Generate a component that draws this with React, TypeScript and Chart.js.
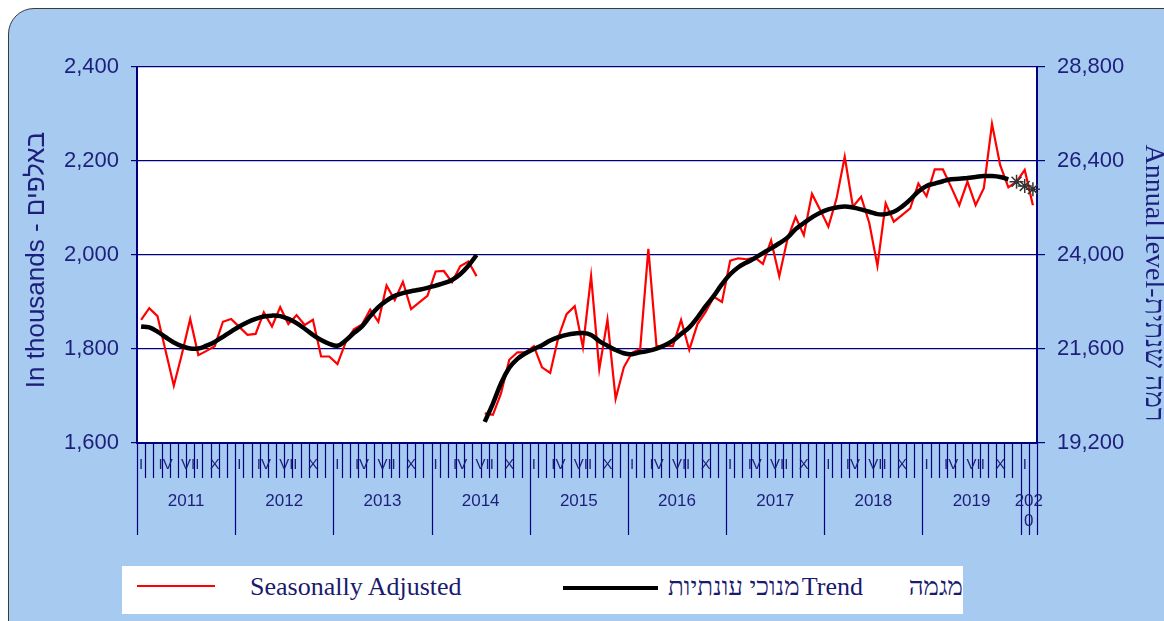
import React, { useEffect, useRef } from 'react';
import { Chart, registerables } from 'chart.js';

Chart.register(...registerables);

// ---------- data ----------
const years = [2011, 2012, 2013, 2014, 2015, 2016, 2017, 2018, 2019, 2020];
const romanMonths = ['I', '', '', 'IV', '', '', 'VII', '', '', 'X', '', ''];
const lastYearMonths = 2; // data runs through February 2020

// Seasonally adjusted, old series (Jan 2011 - Jun 2014), thousands
const seasonallyAdjustedOld = [
  1862, 1887, 1870, 1796, 1722, 1790, 1864, 1787, 1796, 1806, 1858, 1864,
  1847, 1830, 1832, 1878, 1848, 1889, 1853, 1872, 1851, 1862, 1784, 1784,
  1768, 1814, 1842, 1852, 1884, 1858, 1935, 1904, 1943, 1885, 1899, 1913,
  1965, 1966, 1942, 1976, 1986, 1955,
];
// Seasonally adjusted, new series (Jul 2014 - Feb 2020)
const seasonallyAdjustedNew = [
  1663, 1660, 1706, 1777, 1793, 1793,
  1806, 1761, 1749, 1825, 1874, 1891, 1804, 1955, 1757, 1862, 1694, 1761,
  1792, 1800, 2013, 1805, 1807, 1806, 1862, 1798, 1853, 1879, 1911, 1900,
  1988, 1993, 1991, 1995, 1981, 2031, 1955, 2034, 2081, 2042, 2130, 2096,
  2060, 2120, 2209, 2103, 2124, 2068, 1977, 2110, 2071, 2085, 2099, 2152,
  2125, 2182, 2182, 2145, 2106, 2156, 2106, 2142, 2279, 2191, 2144, 2156,
  2181, 2106,
];
// Trend, old series (Jan 2011 - Jun 2014)
const trendOld = [
  1848, 1846, 1837, 1825, 1814, 1806, 1801, 1801, 1807, 1815, 1826, 1837,
  1848, 1857, 1864, 1869, 1871, 1870, 1864, 1855, 1843, 1830, 1819, 1811,
  1807, 1818, 1834, 1848, 1870, 1889, 1903, 1913, 1919, 1923, 1926, 1930,
  1935, 1940, 1947, 1959, 1977, 2000,
];
// Trend, new series (Jul 2014 - Nov 2019)
const trendNew = [
  1645, 1684, 1727, 1760, 1779, 1791,
  1800, 1808, 1818, 1825, 1830, 1833, 1834, 1830, 1817, 1807, 1798, 1791,
  1789, 1793, 1796, 1801, 1808, 1818, 1832, 1846, 1867, 1891, 1913, 1938,
  1959, 1974, 1984, 1993, 2004, 2014, 2025, 2037, 2055, 2068, 2080, 2090,
  2097, 2101, 2103, 2101, 2097, 2092, 2087, 2087, 2092, 2103, 2118, 2135,
  2147, 2152, 2157, 2161, 2162, 2164, 2166, 2168, 2168, 2166, 2161,
];
// Trend, provisional (Dec 2019 - Feb 2020)
const trendProvisional = [2156, 2147, 2140];

const leftTicks = [1600, 1800, 2000, 2200, 2400];
const rightTicks = [19200, 21600, 24000, 26400, 28800];

// ---------- derived ----------
const monthLabels: string[] = [];
years.forEach((y, k) => {
  const n = k === years.length - 1 ? lastYearMonths : 12;
  for (let m = 1; m <= n; m++) monthLabels.push(`${y}-${m}`);
});
const N = monthLabels.length;
const pad = (arr: number[], before: number) => {
  const out: (number | null)[] = new Array(N).fill(null);
  arr.forEach((v, i) => (out[before + i] = v));
  return out;
};

const NAVY = '#000080';
const TEXT = '#1e1e7c';

if (typeof document !== 'undefined') {
  document.body.style.margin = '0';
  document.body.style.overflow = 'hidden';
}

const decorPlugin = {
  id: 'decor',
  beforeDraw(chart: any) {
    const { ctx, chartArea } = chart;
    ctx.save();
    ctx.fillStyle = '#ffffff';
    ctx.fillRect(chartArea.left, chartArea.top, chartArea.right - chartArea.left, chartArea.bottom - chartArea.top);
    ctx.restore();
  },
  afterDraw(chart: any) {
    const { ctx, chartArea } = chart;
    const x = chart.scales.x;
    const bottom = chartArea.bottom;
    const half = (x.getPixelForValue(1) - x.getPixelForValue(0)) / 2;
    ctx.save();
    ctx.strokeStyle = NAVY;
    ctx.lineWidth = 1.2;
    for (let i = 0; i <= N; i++) {
      const px = i < N ? x.getPixelForValue(i) - half : x.getPixelForValue(N - 1) + half;
      const isLong = i % 12 === 0 || i >= 108;
      ctx.beginPath();
      ctx.moveTo(Math.round(px) + 0.5, bottom);
      ctx.lineTo(Math.round(px) + 0.5, bottom + (isLong ? 92 : 35));
      ctx.stroke();
    }
    ctx.fillStyle = TEXT;
    ctx.textAlign = 'center';
    ctx.textBaseline = 'middle';
    ctx.font = '15px "Liberation Sans", Arial, sans-serif';
    for (let i = 0; i < N; i++) {
      const lab = romanMonths[i % 12];
      if (lab) ctx.fillText(lab, x.getPixelForValue(i), bottom + 22);
    }
    ctx.font = '17px "Liberation Sans", Arial, sans-serif';
    years.forEach((y, k) => {
      const s = k * 12;
      const e = Math.min(s + 11, N - 1);
      const cx = (x.getPixelForValue(s) + x.getPixelForValue(e)) / 2;
      if (e - s < 11) {
        const str = String(y);
        ctx.fillText(str.slice(0, 3), cx, bottom + 58);
        ctx.fillText(str.slice(3), cx, bottom + 78);
      } else {
        ctx.fillText(String(y), cx, bottom + 58);
      }
    });
    // axis titles
    ctx.font = '26px "Liberation Sans", Arial, sans-serif';
    ctx.save();
    ctx.translate(37, 260);
    ctx.rotate(-Math.PI / 2);
    ctx.fillText('In thousands - באלפים', 0, 0);
    ctx.restore();
    ctx.font = '28px "Liberation Serif", "Times New Roman", serif';
    ctx.save();
    ctx.translate(1153, 283);
    ctx.rotate(Math.PI / 2);
    ctx.fillText('Annual level-רמה שנתית', 0, 0);
    ctx.restore();
    ctx.restore();
  },
};

export default function App() {
  const ref = useRef<HTMLCanvasElement>(null);
  useEffect(() => {
    if (!ref.current) return;
    const chart = new Chart(ref.current, {
      type: 'line',
      data: {
        labels: monthLabels,
        datasets: [
          {
            label: 'Trend',
            data: pad(trendOld, 0),
            borderColor: '#000000',
            borderWidth: 4.5,
            pointRadius: 0,
            tension: 0.4,
            order: 0,
            yAxisID: 'y',
          },
          {
            label: 'Trend new',
            data: pad(trendNew, trendOld.length),
            borderColor: '#000000',
            borderWidth: 4.5,
            pointRadius: 0,
            tension: 0.4,
            order: 0,
            yAxisID: 'y',
          },
          {
            label: 'Trend provisional',
            data: pad(trendProvisional, trendOld.length + trendNew.length),
            borderColor: '#333333',
            borderWidth: 1.5,
            pointStyle: 'star',
            pointRadius: 7,
            pointBorderColor: '#333333',
            pointBorderWidth: 1.5,
            showLine: false,
            order: 0,
            yAxisID: 'y',
          },
          {
            label: 'Seasonally Adjusted',
            data: pad(seasonallyAdjustedOld, 0),
            borderColor: '#ff0000',
            borderWidth: 2.2,
            pointRadius: 0,
            tension: 0,
            order: 1,
            yAxisID: 'y',
          },
          {
            label: 'Seasonally Adjusted new',
            data: pad(seasonallyAdjustedNew, seasonallyAdjustedOld.length),
            borderColor: '#ff0000',
            borderWidth: 2.2,
            pointRadius: 0,
            tension: 0,
            order: 1,
            yAxisID: 'y',
          },
        ],
      },
      options: {
        animation: false,
        responsive: false,
        maintainAspectRatio: false,
        layout: { padding: { top: 67, left: 0, right: 0, bottom: 0 } },
        plugins: { legend: { display: false }, tooltip: { enabled: false } },
        scales: {
          x: {
            type: 'category',
            offset: true,
            ticks: { display: false },
            grid: { display: false },
            border: { display: true, color: NAVY, width: 2 },
            afterFit: (s: any) => { s.height = 178; },
          },
          y: {
            position: 'left',
            min: leftTicks[0],
            max: leftTicks[leftTicks.length - 1],
            afterBuildTicks: (s: any) => { s.ticks = leftTicks.map((v) => ({ value: v })); },
            ticks: {
              color: TEXT,
              padding: 12,
              font: { size: 22, family: '"Liberation Sans", Arial, sans-serif' },
              callback: (v: any) => Number(v).toLocaleString('en-US'),
            },
            grid: { color: NAVY, lineWidth: 1.2, tickLength: 6 },
            border: { display: true, color: NAVY, width: 2 },
            afterFit: (s: any) => { s.width = 137; },
          },
          y2: {
            position: 'right',
            min: rightTicks[0],
            max: rightTicks[rightTicks.length - 1],
            afterBuildTicks: (s: any) => { s.ticks = rightTicks.map((v) => ({ value: v })); },
            ticks: {
              color: TEXT,
              padding: 12,
              font: { size: 22, family: '"Liberation Sans", Arial, sans-serif' },
              callback: (v: any) => Number(v).toLocaleString('en-US'),
            },
            grid: { color: NAVY, lineWidth: 1.2, tickLength: 8, drawOnChartArea: false },
            border: { display: true, color: NAVY, width: 2 },
            afterFit: (s: any) => { s.width = 127; },
          },
        },
      },
      plugins: [decorPlugin],
    });
    return () => chart.destroy();
  }, []);

  const serif = '"Liberation Serif", "Times New Roman", serif';
  const legendText: React.CSSProperties = {
    position: 'absolute',
    top: 572,
    fontFamily: serif,
    fontSize: 26,
    color: '#1a1a6e',
    whiteSpace: 'nowrap',
    lineHeight: '30px',
  };

  return (
    <div style={{ position: 'relative', width: 1164, height: 621, overflow: 'hidden' }}>
      <div
        style={{
          position: 'absolute',
          left: 8,
          top: 8,
          width: 1220,
          height: 700,
          background: '#a6caf0',
          border: '1.5px solid #3c3c3c',
          borderRadius: 26,
        }}
      />
      <canvas ref={ref} width={1164} height={621} style={{ position: 'absolute', left: 0, top: 0 }} />
      <div style={{ position: 'absolute', left: 122, top: 566, width: 841, height: 48, background: '#ffffff' }} />
      <div style={{ position: 'absolute', left: 137, top: 585, width: 78, height: 2, background: '#ff0000' }} />
      <span style={{ ...legendText, left: 250 }}>Seasonally Adjusted</span>
      <div style={{ position: 'absolute', left: 563, top: 586, width: 95, height: 4, background: '#000000' }} />
      <span style={{ ...legendText, left: 668 }} dir="rtl">מנוכי עונתיות</span>
      <span style={{ ...legendText, right: 1164 - 863 }}>Trend</span>
      <span style={{ ...legendText, right: 1164 - 963 }} dir="rtl">מגמה</span>
    </div>
  );
}
